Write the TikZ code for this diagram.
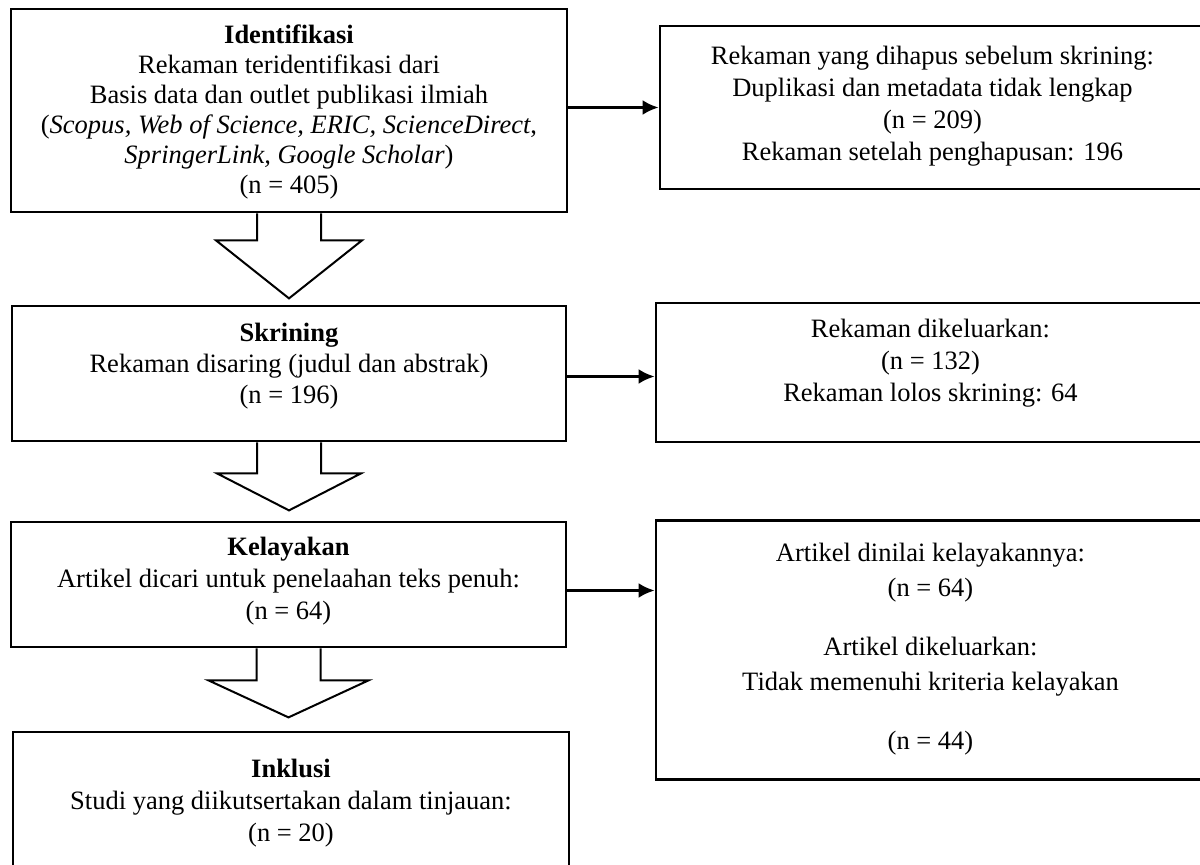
\documentclass[tikz,border=0pt]{standalone}
\usepackage{fontspec}
\setmainfont{Liberation Serif}
\usetikzlibrary{positioning}
\usetikzlibrary{arrows.meta}

\begin{document}
\begin{tikzpicture}[x=0.5pt,y=-0.5pt,>={Latex[length=8pt,width=7.5pt]},line join=miter,
        box/.style={rectangle,draw,line width=1.4pt,inner sep=0pt},
        txt/.style={align=center,inner sep=0pt,font=\fontsize{13.25pt}{15.5pt}\selectfont},
        hollow/.style={draw,line width=1pt},
        sidearrow/.style={draw,line width=1.4pt,->}]
        %
        \useasboundingbox (0,0) rectangle (1200,865);
        \clip (0,0) rectangle (1200,865);
        %
        \node[box,minimum width=278pt,minimum height=101.5pt] (ident) at (289,110.5) {};
        \node[box,minimum width=277pt,minimum height=67.5pt] (skrining) at (289,373.5) {};
        \node[box,minimum width=277.5pt,minimum height=62.5pt] (kelayakan) at (288.5,584.5) {};
        \node[box,minimum width=278pt,minimum height=74pt] (inklusi) at (291,806) {};
        \node[box,minimum width=272.5pt,minimum height=81.5pt] (dihapus) at (932.5,107.5) {};
        \node[box,minimum width=274.5pt,minimum height=69.5pt] (dikeluarkan) at (930.5,372.5) {};
        \node[box,minimum width=274.5pt,minimum height=129.5pt] (dinilai) at (930.5,650) {};
        %
        \node[txt,font=\fontsize{13.25pt}{15pt}\selectfont,below=8.5pt of ident.north] (identtext) {\textbf{Identifikasi}\\Rekaman teridentifikasi dari\\Basis data dan outlet publikasi ilmiah\\(\textit{Scopus, Web of Science, ERIC, ScienceDirect},\\\textit{SpringerLink, Google Scholar})\\(n = 405)};
        \node[txt,below=9pt of skrining.north] (skriningtext) {\textbf{Skrining}\\Rekaman disaring (judul dan abstrak)\\(n = 196)};
        \node[txt,font=\fontsize{13.25pt}{16pt}\selectfont,below=8pt of kelayakan.north] (kelayakantext) {\textbf{Kelayakan}\\Artikel dicari untuk penelaahan teks penuh:\\(n = 64)};
        \node[txt,font=\fontsize{13.25pt}{16pt}\selectfont,below=14pt of inklusi.north] (inklusitext) {\textbf{Inklusi}\\Studi yang diikutsertakan dalam tinjauan:\\(n = 20)};
        \node[txt,font=\fontsize{13.25pt}{16pt}\selectfont,below=10.5pt of dihapus.north] (dihapustext) {Rekaman yang dihapus sebelum skrining:\\Duplikasi dan metadata tidak lengkap\\(n = 209)\\Rekaman setelah penghapusan: 196};
        \node[txt,font=\fontsize{13.25pt}{16pt}\selectfont,below=8.5pt of dikeluarkan.north] (dikeluarkantext) {Rekaman dikeluarkan:\\(n = 132)\\Rekaman lolos skrining: 64};
        \node[txt,below=12pt of dinilai.north] (dinilaitext) {Artikel dinilai kelayakannya:\\[2pt](n = 64)\\[14pt]Artikel dikeluarkan:\\[2pt]Tidak memenuhi kriteria kelayakan\\[14pt](n = 44)};
        %
        \draw[hollow,shift={(ident.south)}] (-32,0) -- (-32,27) -- (-73,27) -- (0,85) -- (73,27) -- (32,27) -- (32,0);
        \draw[hollow,shift={(skrining.south)}] (-32,0) -- (-32,31) -- (-72,31) -- (0,68) -- (72,31) -- (32,31) -- (32,0);
        \draw[hollow,shift={(kelayakan.south)}] (-32,0) -- (-32,32) -- (-80,32) -- (0,69) -- (80,32) -- (32,32) -- (32,0);
        %
        \draw[sidearrow] (ident.east |- dihapus.west) -- (dihapus.west);
        \draw[sidearrow] ([yshift=-1.5pt]skrining.east) -- ([yshift=-1.5pt]skrining.east -| dikeluarkan.west);
        \draw[sidearrow] ([yshift=-3pt]kelayakan.east) -- ([yshift=-3pt]kelayakan.east -| dinilai.west);
        %
\end{tikzpicture}
\end{document}
